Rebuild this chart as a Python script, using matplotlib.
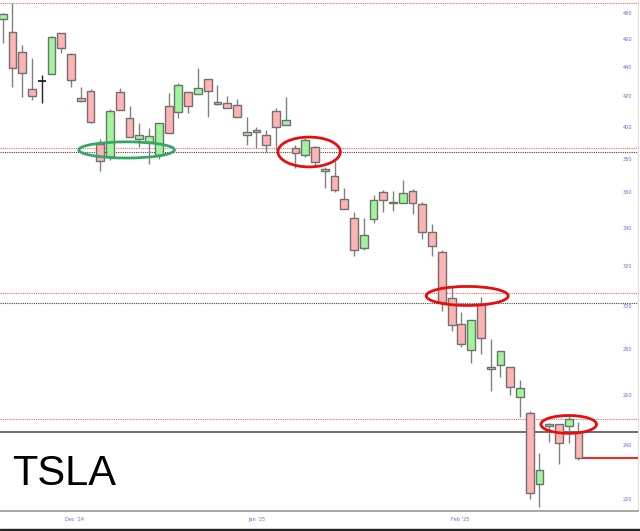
import numpy as np
import matplotlib
matplotlib.use("Agg")
import matplotlib.pyplot as plt
from matplotlib.patches import Ellipse, Rectangle
from matplotlib.ticker import NullLocator

# daily candles (oldest first)
opens = [475.4, 465.6, 450.9, 424.8, 430.3, 435.2, 464.8, 449.4, 418.8, 423.5,
         389.0, 381.0, 422.8, 405.6, 392.2, 390.3, 382.3, 413.4, 409.5, 422.8,
         421.5, 431.7, 416.1, 415.4, 414.1, 394.7, 396.6, 394.7, 410.1, 401.0,
         386.5, 382.3, 387.2, 372.6, 369.6, 356.2, 345.5, 329.4, 345.0, 360.2,
         354.5, 353.9, 360.8, 353.4, 337.9, 326.8, 303.6, 291.2, 279.4, 300.7,
         271.0, 272.8, 271.9, 259.1, 252.6, 225.5, 247.4, 248.2, 247.4, 245.1]
highs = [480.0, 487.8, 456.0, 446.6, 434.5, 462.5, 464.8, 450.2, 426.2, 424.8,
         392.2, 411.4, 425.5, 413.4, 402.3, 399.1, 402.3, 422.1, 428.9, 422.8,
         439.4, 431.7, 427.5, 420.1, 418.1, 406.2, 399.7, 397.8, 412.1, 419.4,
         388.4, 392.8, 387.8, 375.0, 378.6, 362.6, 348.9, 345.5, 358.5, 361.4,
         360.8, 367.3, 362.0, 354.5, 342.2, 328.3, 309.0, 296.9, 293.1, 304.1,
         284.3, 278.9, 271.9, 266.3, 253.4, 236.9, 248.6, 248.2, 251.4, 249.0]
lows = [457.4, 426.2, 419.4, 417.4, 415.4, 435.2, 450.2, 426.2, 416.1, 402.3,
        372.6, 379.2, 410.8, 393.4, 387.2, 376.8, 379.8, 395.9, 405.6, 408.8,
        421.5, 406.2, 414.1, 412.1, 406.2, 388.4, 386.5, 384.1, 385.3, 401.0,
        374.4, 381.0, 375.6, 362.6, 360.2, 350.5, 324.7, 328.3, 342.8, 348.9,
        349.4, 353.9, 347.8, 334.1, 324.7, 297.4, 288.0, 280.7, 273.6, 277.6,
        261.6, 267.6, 259.9, 251.0, 219.9, 217.1, 241.2, 232.8, 240.8, 234.3]
closes = [479.2, 439.4, 435.9, 420.1, 430.3, 461.9, 453.8, 431.0, 416.8, 402.9,
          378.6, 410.1, 410.8, 393.4, 394.7, 394.0, 402.3, 395.9, 427.5, 413.4,
          425.5, 423.5, 414.8, 412.1, 406.2, 396.6, 397.8, 388.4, 399.7, 404.3,
          383.5, 391.5, 378.0, 373.8, 361.4, 350.5, 328.3, 336.3, 355.6, 355.6,
          353.9, 359.7, 353.9, 337.9, 330.4, 301.7, 290.8, 282.1, 293.1, 284.8,
          271.9, 278.9, 263.3, 262.9, 222.3, 230.6, 248.2, 240.8, 250.2, 235.1]

# drawn levels
red_levels = [487.8, 386.5, 306.3, 250.2]
black_dotted_levels = [384.1, 301.5]
support_level = 245.1

# annotation ellipses: (candle index, price, width in candles, height in price)
red_circles = [(31.4, 384.1, 6.4, 18.4), (47.6, 304.8, 8.4, 9.3), (58.0, 248.0, 5.7, 7.1)]
green_circle = (12.7, 385.3, 9.8, 10.0)

y_ticks = [220, 240, 260, 280, 300, 320, 340, 360, 380, 400, 420, 440, 460, 480]
x_tick_pos = [7.4, 26.0, 46.9]
x_tick_labels = ["Dec '24", "Jan '25", "Feb '25"]

UP = "#9ef59a"
DOWN = "#ffb3b3"
EDGE = "#707070"
LABEL = "#6a6ad0"

fig = plt.figure(figsize=(6.4, 5.31), dpi=100)
ax = fig.add_axes([0, 20 / 531, 638 / 640, 511 / 531])
ax.set_yscale("log")

x = np.arange(len(opens))
o = np.array(opens)
c = np.array(closes)
doji = np.isclose(o, c)
colors = np.where(c > o, UP, DOWN)

ax.vlines(x[~doji], np.array(lows)[~doji], np.array(highs)[~doji], color="#808080", lw=1.0, zorder=2)
ax.vlines(x[doji], np.array(lows)[doji], np.array(highs)[doji], color="#222222", lw=1.0, zorder=2)
bottoms = np.minimum(o, c)
heights = np.abs(c - o)
ax.bar(x[~doji], heights[~doji], bottom=bottoms[~doji], width=0.8,
       color=colors[~doji], edgecolor=EDGE, linewidth=1.0, zorder=3)
ax.hlines(o[doji], x[doji] - 0.4, x[doji] + 0.4, color="#111111", lw=1.2, zorder=3)

for lv in red_levels:
    ax.axhline(lv, color="#ff6060", lw=0.8, ls=(0, (1, 1)), zorder=1)
for lv in black_dotted_levels:
    ax.axhline(lv, color="#444444", lw=0.8, ls=(0, (1, 1)), zorder=1)
ax.axhline(support_level, color="#606060", lw=1.3, zorder=1)

# last close line
ax.hlines(closes[-1], x[-1], 70, color="#ee2a2a", lw=1.5, zorder=2)

for cx, cy, w, h in red_circles:
    ax.add_patch(Ellipse((cx, cy), w, h, fill=False, ec="#e41010", lw=2.0, zorder=5))
gx, gy, gw, gh = green_circle
ax.add_patch(Ellipse((gx, gy), gw, gh, fill=False, ec="#33a866", lw=2.0, zorder=5))

ax.set_xlim(-0.28, 65.1)
ax.set_ylim(215.8, 490.1)

ax.yaxis.set_minor_locator(NullLocator())
ax.set_yticks(y_ticks)
ax.set_yticklabels([str(v) for v in y_ticks])
ax.yaxis.tick_right()
ax.tick_params(axis="y", length=0, pad=-11, labelsize=3.6, labelcolor=LABEL)
ax.set_xticks(x_tick_pos)
ax.set_xticklabels(x_tick_labels)
ax.tick_params(axis="x", length=0, pad=4, labelsize=3.6, labelcolor=LABEL)

for side in ["top", "left"]:
    ax.spines[side].set_visible(False)
ax.spines["bottom"].set_color("#999999")
ax.spines["bottom"].set_linewidth(1.2)
ax.spines["right"].set_color("#dddddd")

ax.text(12 / 638, (531 - 485 - 20) / 511, "TSLA", transform=ax.transAxes,
        fontsize=30, family="Liberation Sans", color="black", va="baseline", ha="left")

fig.patches.append(Rectangle((0, 0), 1, 2 / 531, transform=fig.transFigure,
                             color="#222222", zorder=10))

fig.savefig("out.png", dpi=100)
